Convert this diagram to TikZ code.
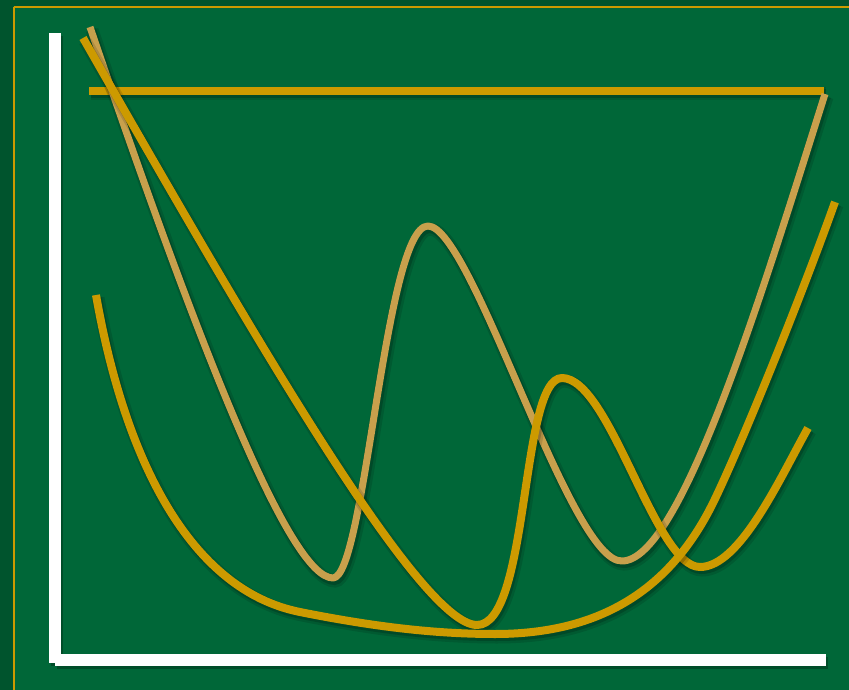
\documentclass[tikz,border=0pt]{standalone}
\definecolor{boardgreen}{RGB}{0,103,56}
\definecolor{edgegreen}{RGB}{0,84,45}
\definecolor{curvegold}{RGB}{204,154,0}
\definecolor{curvetan}{RGB}{200,160,76}
\tikzset{
  shadowed/.style={
    preaction={draw=black, opacity=0.12, line width=13pt,
      transform canvas={shift={(2pt,-3pt)}}},
    preaction={draw=black, opacity=0.18, line width=9pt,
      transform canvas={shift={(1.5pt,-2.5pt)}}}},
  goldcurve/.style={draw=curvegold, line width=8pt, line join=round, shadowed},
  tancurve/.style={draw=curvetan, line width=7pt, line join=round, shadowed},
  axisbar/.style={fill=white, preaction={fill=black, opacity=0.25,
      transform canvas={shift={(2pt,-3pt)}}}}
}
\begin{document}
\begin{tikzpicture}[x=1pt, y=-1pt]
  % board
  \fill[edgegreen] (0,0) rectangle (849,690);
  \fill[boardgreen] (13,6) rectangle (849,690);
  \useasboundingbox (0,0) rectangle (849,690);
  \draw[curvegold, line width=2pt] (14,7) -- (849,7);
  \draw[curvegold, line width=2pt] (14,7) -- (14,690);
  % axes
  \path[axisbar] (49,33) rectangle (61,663);
  \path[axisbar] (55,654) rectangle (826,666);
  % level line
  \draw[goldcurve] (89,91) -- (824,91);
  % tan curve with two dips
  \draw[tancurve] (90,27) .. controls (200,350) and (290,578) .. (333,578)
    .. controls (365,578) and (385,226) .. (428,226)
    .. controls (472,226) and (570,563) .. (622,561)
    .. controls (680,561) and (760,300) .. (825,94);
  % gold curve with sharp dip and bump
  \draw[goldcurve] (83,38) .. controls (250,330) and (420,625) .. (477,625)
    .. controls (530,625) and (520,378) .. (562,378)
    .. controls (610,378) and (655,567) .. (700,567)
    .. controls (740,567) and (780,478) .. (808,428);
  % gold U curve
  \draw[goldcurve] (96,295) .. controls (125,460) and (190,590) .. (300,612)
    .. controls (380,628) and (440,634) .. (495,634)
    .. controls (600,634) and (670,590) .. (713,503)
    .. controls (740,448) and (800,300) .. (835,202);
\end{tikzpicture}
\end{document}
